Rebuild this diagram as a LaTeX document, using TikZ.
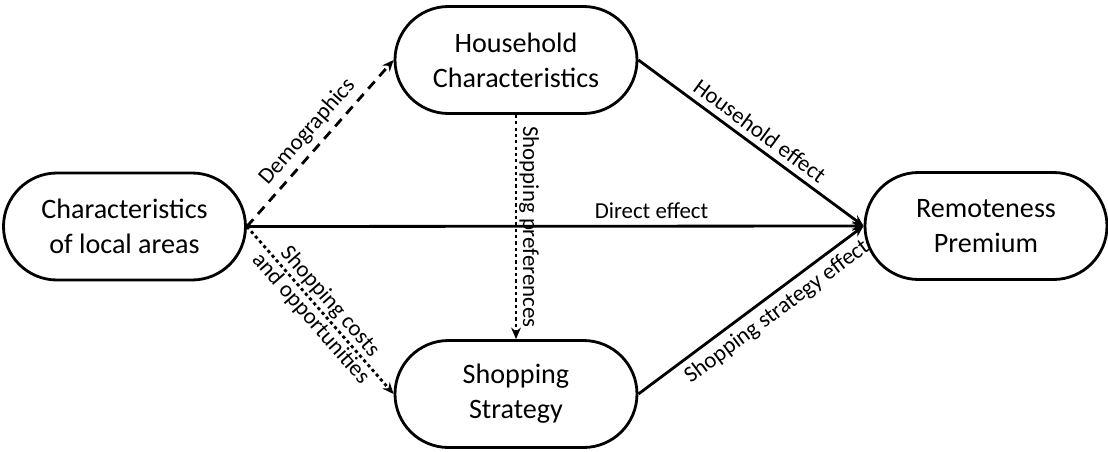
\documentclass[tikz,border=0pt]{standalone}
\usepackage{fontspec}
\setmainfont{Carlito}
\usetikzlibrary{arrows.meta,shapes,positioning}
\tikzstyle{factor} = [rectangle, rounded corners=1.07cm, minimum width=4.84cm, minimum height=2.14cm, align=center, draw=black, line width=1.6pt, font=\fontsize{16}{20}\selectfont]
\tikzstyle{arrow} = [line width=1.6pt,->,>={Stealth[length=6.5pt,width=5.5pt]}]
\tikzstyle{effect} = [sloped, font=\fontsize{13}{14.5}\selectfont]

\begin{document}
\begin{tikzpicture}
\useasboundingbox (0,0) rectangle (22.16,9.02);
% Factors
\node (local) [factor] at (2.49,4.49) {Characteristics\\of local areas};
\node (house) [factor] at (10.32,7.82) {Household\\Characteristics};
\node (shop) [factor] at (10.32,1.14) {Shopping\\Strategy};
\node (remote) [factor] at (19.72,4.5) {Remoteness\\Premium};

% Effects on the premium
\draw[arrow] (local.east) -- node[effect, above, pos=0.656] {Direct effect} (remote.west);
\draw[arrow] (house.east) -- node[effect, above] {Household effect} (remote.west);
\draw[arrow] (shop.east) -- node[effect, below, pos=0.57] {Shopping strategy effect} (remote.west);

% Channels between factors
\draw[arrow, dash pattern=on 5.5pt off 4pt] (local.east) -- node[effect, above] {Demographics} (house.west);
\draw[arrow, dash pattern=on 1.8pt off 1.8pt] (local.east) -- node[effect, align=center] {Shopping costs\\and opportunities} (shop.west);
\draw[arrow, dash pattern=on 1.8pt off 1.8pt] (house.south) -- node[effect, above, inner sep=1pt] {Shopping preferences} (shop.north);
\end{tikzpicture}
\end{document}
